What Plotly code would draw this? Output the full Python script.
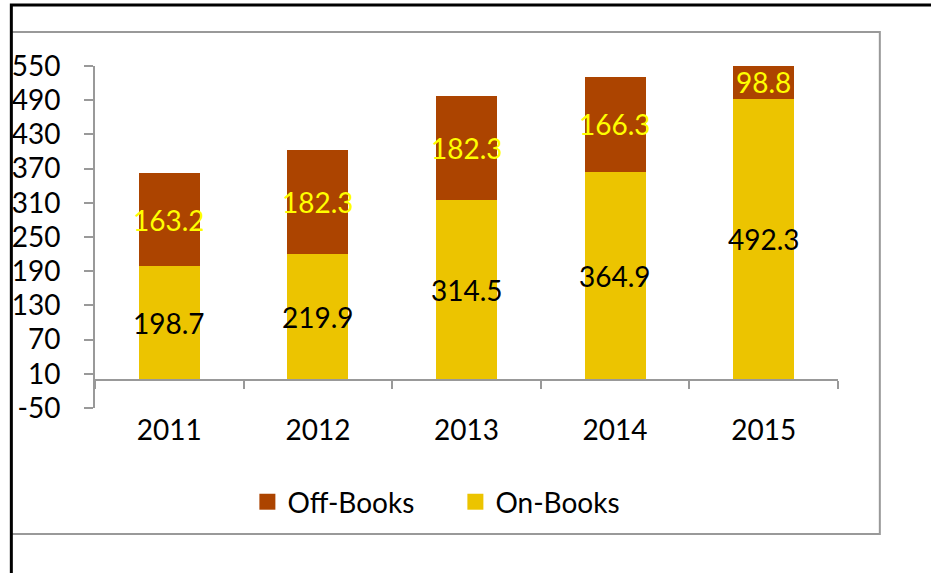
"""
Stacked bar chart: On-Books vs Off-Books, 2011-2015
"""

import plotly.graph_objects as go

years = ['2011', '2012', '2013', '2014', '2015']
on_books = [198.7, 219.9, 314.5, 364.9, 492.3]
off_books = [163.2, 182.3, 182.3, 166.3, 98.8]
y_ticks = [-50, 10, 70, 130, 190, 250, 310, 370, 430, 490, 550]
y_min, y_max = -50, 550

W, H = 931, 573
L, R, T, B = 92, 93, 66, 165
FONT = 'Lato'
BROWN = '#AC4400'
GOLD = '#ECC400'
GRAY = '#999999'


def px_to_paper(x=None, y=None):
    # convert pixel coordinates of the page to paper coordinates
    out = []
    if x is not None:
        out.append((x - L) / (W - L - R))
    if y is not None:
        out.append((H - B - y) / (H - T - B))
    return out if len(out) > 1 else out[0]


fig = go.Figure()

fig.add_trace(go.Bar(
    x=years, y=on_books, name='On-Books',
    marker_color=GOLD, marker_line_width=0, showlegend=False,
))
fig.add_trace(go.Bar(
    x=years, y=off_books, name='Off-Books',
    marker_color=BROWN, marker_line_width=0, showlegend=False,
))

# legend entries with bigger square swatches
for name, color in [('Off-Books', BROWN), ('On-Books', GOLD)]:
    fig.add_trace(go.Scatter(
        x=[None], y=[None], mode='markers', name=name,
        marker=dict(symbol='square', size=16, color=color),
    ))

# data labels, centred on the visible part of each segment
# (x given as category index, since the year strings look numeric)
annotations = []
for i, (on, off) in enumerate(zip(on_books, off_books)):
    annotations.append(dict(
        x=i, y=on / 2, text=f'{on:.1f}', showarrow=False,
        font=dict(color='black', size=28, family=FONT),
    ))
    top = min(on + off, y_max)
    annotations.append(dict(
        x=i, y=(on + top) / 2, text=f'{off:.1f}', showarrow=False,
        font=dict(color='#FFFF00', size=28, family=FONT),
    ))

# outer frames
gx0, gy1 = px_to_paper(8, 32)
gx1, gy0 = px_to_paper(880, 534)
bx0, by1 = px_to_paper(8, 5)
bx1, by0 = px_to_paper(945, 590)

shapes = [
    dict(type='rect', xref='paper', yref='paper', x0=gx0, x1=gx1, y0=gy0, y1=gy1,
         line=dict(color=GRAY, width=2)),
    dict(type='rect', xref='paper', yref='paper', x0=bx0, x1=bx1, y0=by0, y1=by1,
         line=dict(color='black', width=3)),
]

fig.update_layout(
    barmode='stack',
    bargap=0.59,
    width=W,
    height=H,
    autosize=False,
    margin=dict(l=L, r=R, t=T, b=B),
    paper_bgcolor='white',
    plot_bgcolor='white',
    font=dict(family=FONT, size=28, color='black'),
    shapes=shapes,
    annotations=annotations,
    legend=dict(
        orientation='h',
        traceorder='normal',
        x=px_to_paper(x=245),
        xanchor='left',
        y=px_to_paper(y=502),
        yanchor='middle',
        itemwidth=30,
        entrywidth=163,
        font=dict(size=28, family=FONT),
        bgcolor='rgba(0,0,0,0)',
    ),
)

fig.update_yaxes(
    range=[y_min, y_max],
    tickvals=y_ticks,
    ticktext=[str(v) for v in y_ticks],
    showgrid=False,
    zeroline=False,
    showline=True,
    linecolor=GRAY,
    linewidth=2,
    ticks='outside',
    ticklen=9,
    tickwidth=2,
    tickcolor=GRAY,
    ticklabelstandoff=18,
    tickfont=dict(size=28, color='black'),
)

fig.update_xaxes(
    type='category',
    categoryorder='array',
    categoryarray=years,
    range=[-0.5, len(years) - 0.5],
    anchor='free',
    position=(0 - y_min) / (y_max - y_min),
    showgrid=False,
    zeroline=False,
    showline=True,
    linecolor=GRAY,
    linewidth=2,
    ticks='outside',
    tickson='boundaries',
    ticklen=8,
    tickwidth=2,
    tickcolor=GRAY,
    ticklabelstandoff=26,
    tickangle=0,
    tickfont=dict(size=28, color='black'),
)

# drop the default page margin so the figure sits at the top-left corner
fig.write_html(
    "out.html",
    config={'displayModeBar': False},
    post_script="document.body.style.margin='0';document.body.style.overflow='hidden';",
)
